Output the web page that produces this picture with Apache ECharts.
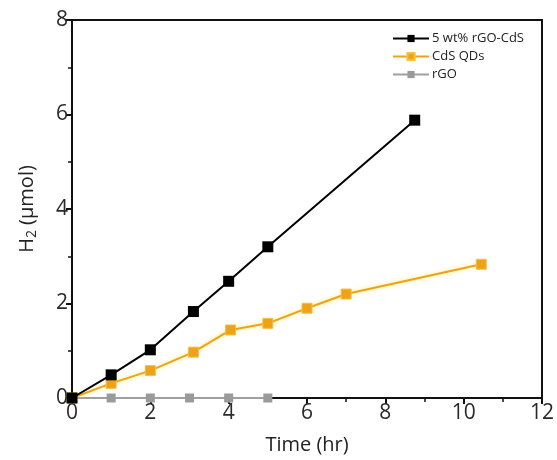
<!DOCTYPE html>
<html>
<head>
<meta charset="utf-8">
<script src="https://cdn.jsdelivr.net/npm/echarts@6/dist/echarts.min.js"></script>
<style>
  html, body { margin: 0; padding: 0; background: #fff; }
  #chart { width: 557px; height: 460px; }
</style>
</head>
<body>
<div id="chart"></div>
<script>
// Hydrogen evolution over time
const rgoCdsTime = [0, 1, 2, 3.1, 4, 5, 8.75];
const rgoCdsH2   = [0, 0.49, 1.02, 1.83, 2.47, 3.2, 5.88];

const cdsTime = [0, 1, 2, 3.1, 4.05, 5, 6, 7, 10.45];
const cdsH2   = [0, 0.31, 0.58, 0.97, 1.44, 1.58, 1.9, 2.2, 2.83];

const rgoTime = [0, 1, 2, 3, 4, 5];
const rgoH2   = [0, 0, 0, 0, 0, 0];

const seriesNames = ['5 wt% rGO-CdS', 'CdS QDs', 'rGO'];
const xTicks = [0, 2, 4, 6, 8, 10, 12];
const yTicks = [0, 2, 4, 6, 8];

const pair = (xs, ys) => xs.map((x, i) => [x, ys[i]]);
const font = 'Open Sans';
const xMin = xTicks[0], xMax = xTicks[xTicks.length - 1];
const yMin = yTicks[0], yMax = yTicks[yTicks.length - 1];

const chart = echarts.init(document.getElementById('chart'), null, { renderer: 'canvas' });

chart.setOption({
  backgroundColor: '#ffffff',
  animation: false,
  grid: { left: 72, right: 15, top: 20, bottom: 62, show: true, borderColor: '#111', borderWidth: 2, backgroundColor: '#fff' },
  legend: {
    data: seriesNames,
    orient: 'vertical',
    right: 28,
    top: 27,
    itemWidth: 36,
    itemHeight: 9,
    itemGap: 5,
    textStyle: { fontFamily: font, fontSize: 13, color: '#222', padding: [0, 0, 0, -2] }
  },
  xAxis: {
    type: 'value',
    min: xMin,
    max: xMax,
    interval: 2,
    name: 'Time (hr)',
    nameLocation: 'middle',
    nameGap: 37,
    nameTextStyle: { fontFamily: font, fontSize: 20, color: '#222' },
    axisLine: { show: true, onZero: false, lineStyle: { color: '#111', width: 2 } },
    axisTick: { show: true, length: 6, lineStyle: { color: '#111', width: 2 } },
    minorTick: { show: true, splitNumber: 2, length: 4, lineStyle: { color: '#111', width: 1.5 } },
    axisLabel: { fontFamily: font, fontSize: 21, color: '#2a2a2a', margin: 5,
                 formatter: v => xTicks.includes(v) ? String(v) : '' },
    splitLine: { show: false }
  },
  yAxis: {
    type: 'value',
    min: yMin,
    max: yMax,
    interval: 2,
    name: '{a|H}{s|2}{a| (μmol)}',
    nameLocation: 'middle',
    nameGap: 33,
    nameTextStyle: {
      rich: {
        a: { fontFamily: font, fontSize: 20, color: '#222' },
        s: { fontFamily: font, fontSize: 14, color: '#222', verticalAlign: 'bottom', padding: [10, 0, 0, 0] }
      }
    },
    axisLine: { show: true, onZero: false, lineStyle: { color: '#111', width: 2 } },
    axisTick: { show: true, length: 6, lineStyle: { color: '#111', width: 2 } },
    minorTick: { show: true, splitNumber: 2, length: 4, lineStyle: { color: '#111', width: 1.5 } },
    axisLabel: { fontFamily: font, fontSize: 21, color: '#2a2a2a', margin: 4,
                 formatter: v => yTicks.includes(v) ? String(v) : '' },
    splitLine: { show: false }
  },
  series: [
    {
      name: seriesNames[2],
      type: 'line',
      data: pair(rgoTime, rgoH2),
      symbol: 'rect',
      symbolSize: 9,
      z: 2,
      itemStyle: { color: '#9a9a9a' },
      lineStyle: { color: '#a0a0a0', width: 2 },
      // top and right edges of the plot frame
      markLine: {
        silent: true,
        symbol: 'none',
        animation: false,
        label: { show: false },
        lineStyle: { color: '#111', width: 2, type: 'solid' },
        emphasis: { disabled: true },
        data: [{ yAxis: yMax }, { xAxis: xMax }]
      }
    },
    {
      name: seriesNames[1],
      type: 'line',
      data: pair(cdsTime, cdsH2),
      symbol: 'rect',
      symbolSize: 10,
      z: 3,
      itemStyle: { color: '#eda21a', borderColor: '#f5c040', borderWidth: 1 },
      lineStyle: { color: '#eda21a', width: 2, shadowColor: 'rgba(255,220,0,0.6)', shadowBlur: 4 }
    },
    {
      name: seriesNames[0],
      type: 'line',
      data: pair(rgoCdsTime, rgoCdsH2),
      symbol: 'rect',
      symbolSize: 11,
      z: 4,
      itemStyle: { color: '#000' },
      lineStyle: { color: '#000', width: 2 }
    }
  ]
});
</script>
</body>
</html>
